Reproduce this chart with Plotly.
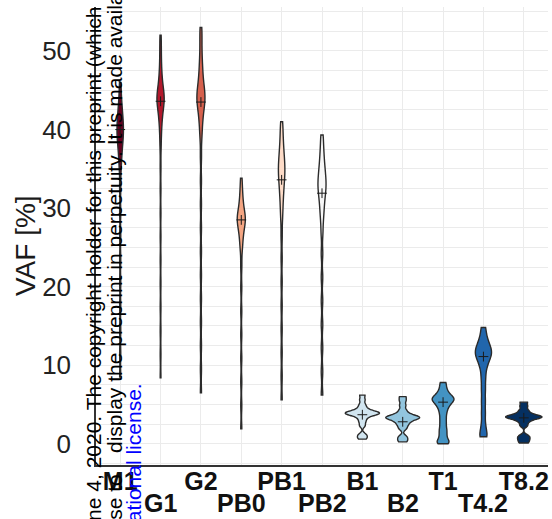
import plotly.graph_objects as go

# ---------------- data ----------------
categories = ["M1", "G1", "G2", "PB0", "PB1", "PB2", "B1", "B2", "T1", "T4.2", "T8.2"]

vaf_M1 = [8.5, 11.5, 14.5, 17.5, 20.5, 23.5, 26.5, 29.5, 32.5,
          34.8, 36.0, 36.9, 37.6, 38.2, 38.7, 39.1, 39.5, 39.9, 40.3, 40.7,
          41.1, 41.6, 42.1, 42.7, 43.5, 44.5, 46.0]
vaf_G1 = [8.4, 11.4, 14.4, 17.4, 20.4, 23.4, 26.4, 29.4, 32.4, 35.2,
          37.6, 39.0, 40.0, 40.8, 41.4, 41.9, 42.3, 42.7, 43.0, 43.3, 43.5,
          43.7, 43.9, 44.1, 44.3, 44.5, 44.8, 45.1, 45.4, 45.8, 46.3, 46.9,
          47.6, 48.5, 49.6, 50.8, 52.0]
vaf_G2 = [6.5, 9.5, 12.5, 15.5, 18.5, 21.5, 24.5, 27.5, 30.5, 33.5, 36.5,
          38.8, 40.0, 40.9, 41.6, 42.2, 42.7, 43.1, 43.4, 43.7, 44.0, 44.3,
          44.6, 44.9, 45.3, 45.7, 46.2, 46.8, 47.5, 48.3, 49.2, 50.5, 51.8, 53.0]
vaf_PB0 = [1.9, 4.9, 7.9, 10.9, 13.9, 16.9, 19.9, 22.6,
           24.6, 25.5, 26.2, 26.8, 27.3, 27.7, 28.0, 28.3, 28.5, 28.7, 28.9,
           29.2, 29.5, 29.9, 30.4, 31.0, 31.7, 32.6, 33.8]
vaf_PB1 = [5.6, 8.6, 11.6, 14.6, 17.6, 20.6, 23.6, 26.4,
           28.6, 29.8, 30.8, 31.6, 32.3, 32.9, 33.4, 33.9, 34.3, 34.7, 35.1,
           35.5, 35.9, 36.4, 36.9, 37.5, 38.2, 39.0, 40.0, 41.0]
vaf_PB2 = [6.2, 9.2, 12.2, 15.2, 18.2, 21.2, 24.2, 26.8,
           28.4, 29.4, 30.2, 30.9, 31.5, 32.0, 32.4, 32.8, 33.2, 33.6, 34.0,
           34.5, 35.0, 35.6, 36.3, 37.1, 38.1, 39.3]
vaf_B1 = [0.6, 0.9, 1.2, 2.3, 2.8, 3.2, 3.5, 3.7, 3.8, 3.85, 3.9, 3.95, 4.0,
          4.1, 4.3, 4.6, 5.0, 5.6, 6.2]
vaf_B2 = [0.25, 0.6, 0.95, 1.9, 2.3, 2.6, 2.85, 3.05, 3.2, 3.3, 3.35, 3.4,
          3.5, 3.65, 3.9, 4.3, 4.9, 5.5, 6.0]
vaf_T1 = [0.0, 0.2, 0.5, 1.0, 1.5, 2.0, 2.6, 3.2, 3.8, 4.3, 4.7, 5.0, 5.25,
          5.45, 5.6, 5.75, 5.9, 6.1, 6.35, 6.7, 7.2, 7.8]
vaf_T42 = [0.9, 1.2, 2.4, 3.9, 5.4, 6.9, 8.3, 9.5, 10.3, 10.8, 11.2, 11.5,
           11.8, 12.1, 12.5, 13.0, 13.7, 14.8]
vaf_T82 = [0.1, 0.45, 0.75, 1.05, 2.3, 2.75, 3.05, 3.25, 3.35, 3.4, 3.45,
           3.55, 3.7, 3.95, 4.3, 4.8, 5.3]

centre_values = [40.0, 43.6, 43.5, 28.5, 33.6, 31.9, 3.7, 2.8, 5.3, 11.1, 3.3]

y_tick_values = [0, 10, 20, 30, 40, 50]

# ---------------- styling ----------------
series = [vaf_M1, vaf_G1, vaf_G2, vaf_PB0, vaf_PB1, vaf_PB2,
          vaf_B1, vaf_B2, vaf_T1, vaf_T42, vaf_T82]
fill_colors = ["#67001f", "#b2182b", "#d6604d", "#f4a582", "#fddbc7", "#f7f7f7",
               "#d1e5f0", "#92c5de", "#4393c3", "#2166ac", "#053061"]
violin_widths = [0.16, 0.18, 0.2, 0.2, 0.16, 0.2, 0.85, 0.84, 0.54, 0.4, 0.9]
bandwidths = [1.0, 1.0, 1.0, 0.9, 1.0, 0.9, 0.25, 0.25, 0.35, 0.7, 0.22]

FONT = "Liberation Sans, Arial, sans-serif"
W, H = 552, 519
ML, MR, MT, MB = 96, 4, 7, 54
PW, PH = W - ML - MR, H - MT - MB


def px_x(px):
    return (px - ML) / PW


def px_y(py):
    return (H - MB - py) / PH


fig = go.Figure()

for cat, vals, col, w, bw in zip(categories, series, fill_colors, violin_widths, bandwidths):
    fig.add_trace(go.Violin(
        x=[cat] * len(vals), y=vals, name=cat,
        fillcolor=col, line=dict(color="#2b2b2b", width=1.4),
        width=w, spanmode="hard", bandwidth=bw, scalemode="width",
        points=False, box=dict(visible=False), meanline=dict(visible=False),
        opacity=1, showlegend=False, hoveron="violins",
    ))

fig.add_trace(go.Scatter(
    x=categories, y=centre_values, mode="markers", showlegend=False,
    marker=dict(symbol="cross-thin", size=7, line=dict(width=1, color="#1a1a1a")),
))

# two rows of category labels: even ones on the axis, odd ones one row lower
tick_text = [c if i % 2 == 0 else "" for i, c in enumerate(categories)]
label_font = dict(family=FONT, size=25, color="#111111", weight="bold")

fig.update_layout(
    width=W, height=H, template="none",
    paper_bgcolor="white", plot_bgcolor="white",
    margin=dict(l=ML, r=MR, t=MT, b=MB, pad=0),
    violinmode="overlay",
    font=dict(family=FONT, color="#1a1a1a"),
    xaxis=dict(
        type="category", categoryorder="array", categoryarray=categories,
        range=[-0.6, len(categories) - 0.4],
        tickvals=categories, ticktext=tick_text, tickangle=0,
        tickfont=label_font, ticklabelstandoff=-7,
        showgrid=True, gridcolor="#ebebeb", gridwidth=1,
        showline=True, linecolor="#333333", linewidth=2,
        ticks="", zeroline=False, automargin=False,
    ),
    yaxis=dict(
        range=[-2.7, 55.6], tickvals=y_tick_values,
        tickfont=dict(family=FONT, size=26, color="#222222"),
        showgrid=True, gridcolor="#ebebeb", gridwidth=1,
        minor=dict(dtick=2.5, tick0=0, showgrid=True, gridcolor="#ebebeb", gridwidth=1),
        showline=True, linecolor="#333333", linewidth=1.5,
        ticks="", ticklabelstandoff=18, zeroline=False, automargin=False,
    ),
)

for i, c in enumerate(categories):
    if i % 2 == 1:
        fig.add_annotation(
            text=c, x=c, xref="x", yref="paper", y=px_y(503),
            xanchor="center", yanchor="middle", showarrow=False,
            font=label_font,
        )

# y axis title
fig.add_annotation(
    text="VAF [%]", textangle=-90, showarrow=False,
    xref="paper", yref="paper", x=px_x(26), y=px_y(246),
    xanchor="center", yanchor="middle",
    font=dict(family=FONT, size=28, color="#1a1a1a"),
)

# overlaid preprint notice (rotated text)
WM = 21
fig.add_annotation(
    text="this version posted June 4, 2020. The copyright holder for this preprint (which",
    textangle=-90, showarrow=False, xref="paper", yref="paper",
    x=px_x(94), y=px_y(4), xanchor="center", yanchor="top",
    font=dict(family=FONT, size=WM, color="#000000"),
)
fig.add_annotation(
    text="has granted bioRxiv a license to",
    textangle=-90, showarrow=False, xref="paper", yref="paper",
    x=px_x(114), y=px_y(472), xanchor="center", yanchor="top",
    font=dict(family=FONT, size=WM, color="#000000"),
)
fig.add_annotation(
    text="display the preprint in perpetuity. It is made available under aCC-BY-NC-ND 4.0",
    textangle=-90, showarrow=False, xref="paper", yref="paper",
    x=px_x(114), y=px_y(455), xanchor="center", yanchor="bottom",
    font=dict(family=FONT, size=WM, color="#000000"),
)
fig.add_annotation(
    text="4.0 International license.",
    textangle=-90, showarrow=False, xref="paper", yref="paper",
    x=px_x(133), y=px_y(381), xanchor="center", yanchor="top",
    font=dict(family=FONT, size=WM, color="#0000ff"),
)

fig.write_html("out.html", config={"displayModeBar": False},
               post_script="document.body.style.margin='0px';")
